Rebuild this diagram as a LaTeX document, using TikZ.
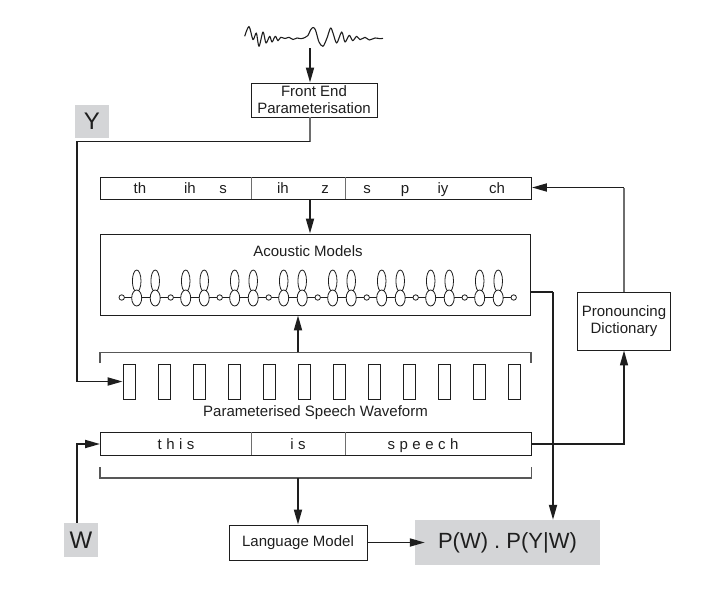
\documentclass[tikz,border=0pt]{standalone}
\usepackage{fontspec}
\setmainfont{Liberation Sans}
\newfontfamily\spacedfont[LetterSpace=30]{Liberation Sans}
\usetikzlibrary{arrows.meta}
\definecolor{ink}{HTML}{1E1E1E}
\definecolor{soft}{HTML}{6E6E6E}
\definecolor{tagfill}{HTML}{D4D5D7}
\begin{document}
\begin{tikzpicture}[x=1pt,y=-1pt,
  every node/.style={font=\fontsize{15}{17}\selectfont, text=ink},
  box/.style={draw=ink, line width=0.9pt, inner sep=0pt, align=center},
  tag/.style={fill=tagfill, inner sep=0pt},
  label/.style={inner sep=0pt},
  tipd/.style={-{Triangle[length=15pt,width=8pt]}},
  conn/.style={draw=ink, line width=1.8pt, tipd},
  thin/.style={draw=ink, line width=1.2pt},
  divider/.style={draw=soft, line width=1pt},
  bracket/.style={draw=soft!80!black, line width=1.2pt},
  frame/.style={draw=ink, line width=0.8pt, minimum width=12pt, minimum height=35pt, inner sep=0pt},
  bigstate/.style={draw=ink, line width=0.8pt, fill=white},
]
\useasboundingbox (0,0) rectangle (720,605);

% input speech signal
\draw[ink, line width=1.1pt, line join=round] plot[smooth, tension=0.5] coordinates {
  (244.7,36.3) (249,26.5) (253,39.7) (256.3,33) (259,46.3) (263,32) (266,43)
  (269.7,36.3) (272,42) (275.3,36.3) (278,40.7) (280.7,37.3) (285,38.5)
  (289,37.3) (293,39.5) (297,38) (301,38.7) (305,37.5) (308,35.5) (310.5,30)
  (313,27.5) (315.5,30) (319,42) (323,46.3) (327,38) (330.5,28) (333,33)
  (336.7,43) (341.7,32) (345,42) (349.3,35.3) (352.7,40.7) (356.7,36.3)
  (360,39.7) (365,37.3) (369.3,40) (375,38) (380,38.7) (383,38.3)};
\coordinate (wave) at (310,48);

% boxes
\node[box, minimum width=126pt, minimum height=34pt] (fe) at (314,100)
  {\fontsize{15}{17}\selectfont Front End\\Parameterisation};
\node[tag, minimum width=34pt, minimum height=33pt, font=\fontsize{24}{26}\selectfont] (ytag) at (92,121) {Y};
\node[tag, minimum width=34pt, minimum height=34pt, font=\fontsize{24}{26}\selectfont] (wtag) at (81,540) {W};

\node[box, minimum width=431pt, minimum height=22pt] (phones) at (316,188) {};
\draw[divider] (251.7,177) -- (251.7,199);
\draw[divider] (345,177) -- (345,199);
\foreach \t/\x [count=\i] in {th/140, ih/190, s/223, ih/283, z/325, s/367, p/405, iy/443, ch/497}
  \node[label, anchor=base] (ph\i) at (\x,193) {\t};

\node[box, minimum width=430pt, minimum height=81pt] (am) at (315,274.5) {};
\node[label] (amtitle) at (308,251.5) {Acoustic Models};

% HMM chains
\foreach \k in {0,...,7} {
  \pgfmathsetmacro{\xo}{121.7+49*\k}
  \draw[ink, line width=0.8pt] (\xo,297.5) -- (\xo+49,297.5);
  \draw[ink, line width=0.8pt] (\xo+15,281) ellipse [x radius=4.3, y radius=11];
  \draw[ink, line width=0.8pt] (\xo+33.5,281) ellipse [x radius=4.3, y radius=11];
  \draw[bigstate] (\xo+15,298) ellipse [x radius=5, y radius=8];
  \draw[bigstate] (\xo+33.5,298) ellipse [x radius=5, y radius=8];
}
\foreach \k in {0,...,8}
  \draw[bigstate] (121.7+49*\k,297.5) circle [radius=2.7];

% upper bracket over the frames
\draw[bracket] (100,363) -- (100,352.3) -- (531,352.3) -- (531,363);
\coordinate (tbmid) at (298,352.3);

\foreach \k in {1,...,12}
  \node[frame] (fr\k) at (94+35*\k,381.5) {};
\node[label] (psw) at (315.5,412.7) {Parameterised Speech Waveform};

\node[box, minimum width=431pt, minimum height=23pt] (words) at (316,443.5) {};
\draw[divider] (251.7,432) -- (251.7,455);
\draw[divider] (345,432) -- (345,455);
\node[label, anchor=base, font=\spacedfont\fontsize{15}{17}\selectfont] (w1) at (176,449) {this};
\node[label, anchor=base, font=\spacedfont\fontsize{15}{17}\selectfont] (w2) at (298,449) {is};
\node[label, anchor=base, font=\spacedfont\fontsize{15}{17}\selectfont] (w3) at (423,449) {speech};

% lower bracket under the words
\draw[bracket] (100,467) -- (100,478) -- (531.5,478) -- (531.5,467);
\coordinate (bbmid) at (298,478);

\node[box, minimum width=93pt, minimum height=58pt] (pd) at (624,321)
  {\fontsize{15}{17}\selectfont Pronouncing\\Dictionary};
\node[box, minimum width=138pt, minimum height=35pt] (lm) at (298,542.5) {Language Model};
\node[tag, minimum width=185pt, minimum height=45pt, font=\fontsize{22}{24}\selectfont] (pyw) at (507.5,542.5) {P(W) . P(Y|W)};

% connectors
\draw[conn] (wave) -- (wave |- fe.north);
\coordinate (ycorner) at (77,141.5);
\draw[draw=soft, line width=1.8pt] (fe.south -| wave) -- (wave |- ycorner);
\draw[conn] (wave |- ycorner) -- (ycorner) -- (ycorner |- fr1.west) -- (fr1.west);
\draw[conn] (phones.south -| wave) -- (wave |- am.north);
\draw[conn] (tbmid) -- (tbmid |- am.south);
\coordinate (amout) at (553,292);
\draw[thin] (am.east |- amout) -- (amout);
\draw[conn] (amout) -- (amout |- pyw.north);
\coordinate (pdcorner) at (624,187.5);
\draw[draw=soft, line width=1.4pt] (pd.north) -- (pdcorner);
\draw[conn] (pdcorner) -- (phones.east |- pdcorner);
\coordinate (wcorner) at (77,444);
\draw[conn] (wcorner |- wtag.north) -- (wcorner) -- (words.west |- wcorner);
\draw[draw=ink, line width=1.4pt, tipd] (words.east |- wcorner) -| (pd.south);
\draw[conn] (bbmid) -- (bbmid |- lm.north);
\draw[conn] (lm.east) -- ([xshift=10pt]pyw.west);
\end{tikzpicture}
\end{document}
